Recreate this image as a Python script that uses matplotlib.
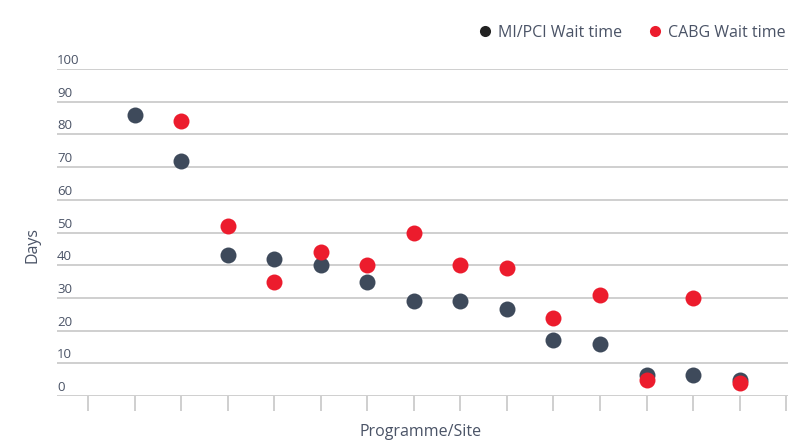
import numpy as np
import matplotlib
matplotlib.use("Agg")
import matplotlib.pyplot as plt
from matplotlib.lines import Line2D
import matplotlib.transforms as mtransforms

plt.rcParams['font.family'] = ['Open Sans', 'DejaVu Sans']

# Data (categories are unnamed programme/site slots)
slots = np.arange(16)                      # tick positions along x
mi_pos = np.arange(1, 15)
mi_wait = [86, 72, 43, 42, 40, 35, 29, 29, 26.5, 17, 16, 6.5, 6.5, 5]
cabg_pos = np.arange(2, 15)
cabg_wait = [84, 52, 35, 44, 40, 50, 40, 39, 24, 31, 5, 30, 4]
y_ticks = [0, 10, 20, 30, 40, 50, 60, 70, 80, 90, 100]

text_col = '#4a5366'
grid_col = '#cfcfcf'
mi_col = '#3e4a5b'
cabg_col = '#ec1c2d'

fig = plt.figure(figsize=(7.88, 4.41), dpi=100)
ax = fig.add_axes([57/788, 1-396/441, (788-57)/788, (396-69)/441])

ax.set_xlim(-0.666, 15.04)
ax.set_ylim(0, 100)

for v in y_ticks:
    ax.axhline(v, color=grid_col, lw=1.4, zorder=1)

ax.plot(mi_pos, mi_wait, 'o', color=mi_col, ms=11.5, zorder=3, mec='none')
ax.plot(cabg_pos, cabg_wait, 'o', color=cabg_col, ms=11.5, zorder=4, mec='none')

for s in ['top', 'right', 'left', 'bottom']:
    ax.spines[s].set_visible(False)
ax.set_yticks([])
ax.set_xticks(slots)
ax.set_xticklabels([])
ax.tick_params(axis='x', length=11, width=1.4, color=grid_col)

trans = mtransforms.blended_transform_factory(ax.transAxes, ax.transData)
for v in y_ticks:
    ax.text(0.0, v + 0.6, str(v), transform=trans, ha='left', va='bottom',
            fontsize=9.5, color=text_col)

fig.text(33/788, 1-245/441, 'Days', rotation=90, ha='center', va='center',
         fontsize=11.5, color=text_col)
fig.text(421/788, 1-432/441, 'Programme/Site', ha='center', va='center',
         fontsize=11.5, color=text_col)

handles = [Line2D([], [], marker='o', ls='none', color='#222222', ms=8, mec='none'),
           Line2D([], [], marker='o', ls='none', color=cabg_col, ms=8, mec='none')]
fig.legend(handles, ['MI/PCI Wait time', 'CABG Wait time'], loc='center right',
           bbox_to_anchor=(800/788, 1-33/441), ncol=2, frameon=False,
           fontsize=11.5, labelcolor=text_col, handletextpad=0.3,
           columnspacing=1.6, handlelength=1.0)

fig.savefig('out.png', dpi=100)
